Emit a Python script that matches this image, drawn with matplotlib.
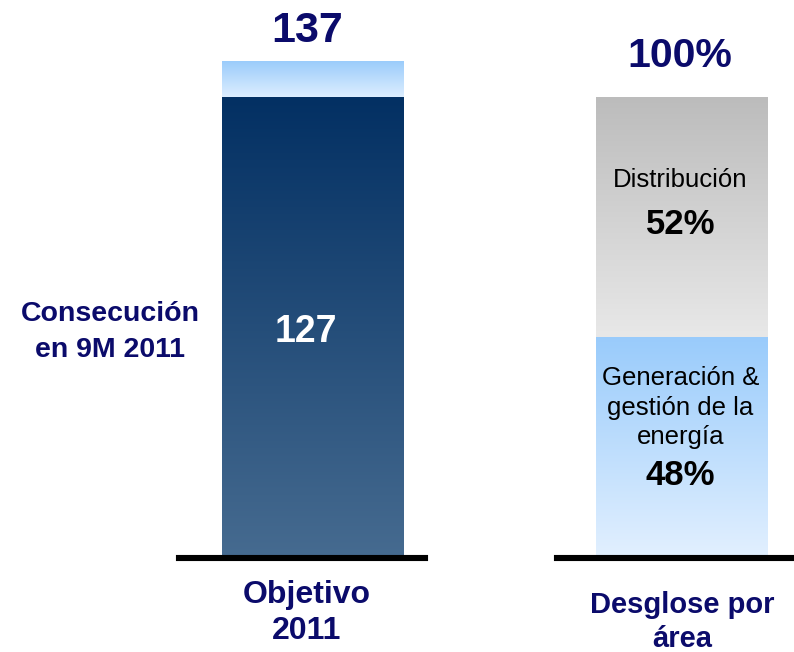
"""Objetivo 2011 vs consecución en 9M 2011, y desglose por área."""

import matplotlib
matplotlib.use("Agg")
import matplotlib.pyplot as plt
import numpy as np
from matplotlib.colors import LinearSegmentedColormap

plt.rcParams["font.family"] = ["Liberation Sans", "DejaVu Sans"]

# data
objetivo_total = 137
consecucion = 127
areas = ["Generación &\ngestión de la\nenergía", "Distribución"]
area_pct = [48, 52]

NAVY = "#0b0b6b"
W, H = 794, 652
BASE = 558          # baseline, px from top
TOP127 = 97         # px from top of the 127 / 100% level


def px_box(x0, x1):
    """Axes rect from pixel x-span, baseline to top of figure."""
    return [x0 / W, (H - BASE) / H, (x1 - x0) / W, BASE / H]


def grad_bar(ax, x, bottom, height, width, c_top, c_bot):
    bar = ax.bar(x, height, width, bottom=bottom, color="none",
                 linewidth=0)[0]
    cmap = LinearSegmentedColormap.from_list("g", [c_bot, c_top])
    grad = np.linspace(0, 1, 256).reshape(-1, 1)
    im = ax.imshow(grad, cmap=cmap, aspect="auto", origin="lower",
                   extent=[x - width / 2, x + width / 2, bottom, bottom + height],
                   zorder=1)
    im.set_clip_path(bar)
    return bar


fig = plt.figure(figsize=(7.94, 6.52), dpi=100)
scale = BASE / (BASE - TOP127)

# left: objetivo
ax1 = fig.add_axes(px_box(179, 425))
grad_bar(ax1, 0, 0, consecucion, 1, "#033063", "#466b90")
grad_bar(ax1, 0, consecucion, objetivo_total - consecucion, 1,
         "#99cbfb", "#ddeeff")
ax1.set_xlim((179 - 313) / 182, (425 - 313) / 182)
ax1.set_ylim(0, consecucion * scale)
ax1.text(-0.03, objetivo_total + 8.3, str(objetivo_total), ha="center",
         va="center", fontsize=31, fontweight="bold", color=NAVY)
ax1.text(-0.04, consecucion / 2 - 1.3, str(consecucion), ha="center",
         va="center", fontsize=27, fontweight="bold", color="white")

# right: desglose
ax2 = fig.add_axes(px_box(557, 794))
grad_bar(ax2, 0, 0, area_pct[0], 1, "#99cbfb", "#e2f0ff")
grad_bar(ax2, 0, area_pct[0], area_pct[1], 1, "#bcbcbc", "#e8e8e8")
ax2.set_xlim((557 - 682) / 172, (794 - 682) / 172)
ax2.set_ylim(0, 100 * scale)
ax2.text(-0.01, 100 + 8.8, "100%", ha="center", va="center", fontsize=29.5,
         fontweight="bold", color=NAVY)
ax2.text(-0.01, 82.1, areas[1], ha="center", va="center", fontsize=18.5)
ax2.text(-0.01, 72.4, f"{area_pct[1]}%", ha="center", va="center",
         fontsize=25, fontweight="bold")
ax2.text(-0.01, 32.6, areas[0], ha="center", va="center", fontsize=18.5,
         linespacing=1.3)
ax2.text(-0.01, 17.9, f"{area_pct[0]}%", ha="center", va="center",
         fontsize=25, fontweight="bold")

for ax in (ax1, ax2):
    for side in ("top", "left", "right"):
        ax.spines[side].set_visible(False)
    ax.spines["bottom"].set_linewidth(4.4)
    ax.spines["bottom"].set_zorder(3)
    ax.set_xticks([])
    ax.set_yticks([])
    ax.patch.set_alpha(0)

# category / side labels
fig.text(110 / W, 1 - 332 / H, "Consecución\nen 9M 2011", ha="center",
         va="center", fontsize=20.5, fontweight="bold", color=NAVY,
         linespacing=1.5)
fig.text(307 / W, 1 - 613 / H, "Objetivo\n2011", ha="center", va="center",
         fontsize=23, fontweight="bold", color=NAVY, linespacing=1.25)
fig.text(682 / W, 1 - 622 / H, "Desglose por\nárea", ha="center",
         va="center", fontsize=21, fontweight="bold", color=NAVY,
         linespacing=1.25)

fig.savefig("out.png", dpi=100)
